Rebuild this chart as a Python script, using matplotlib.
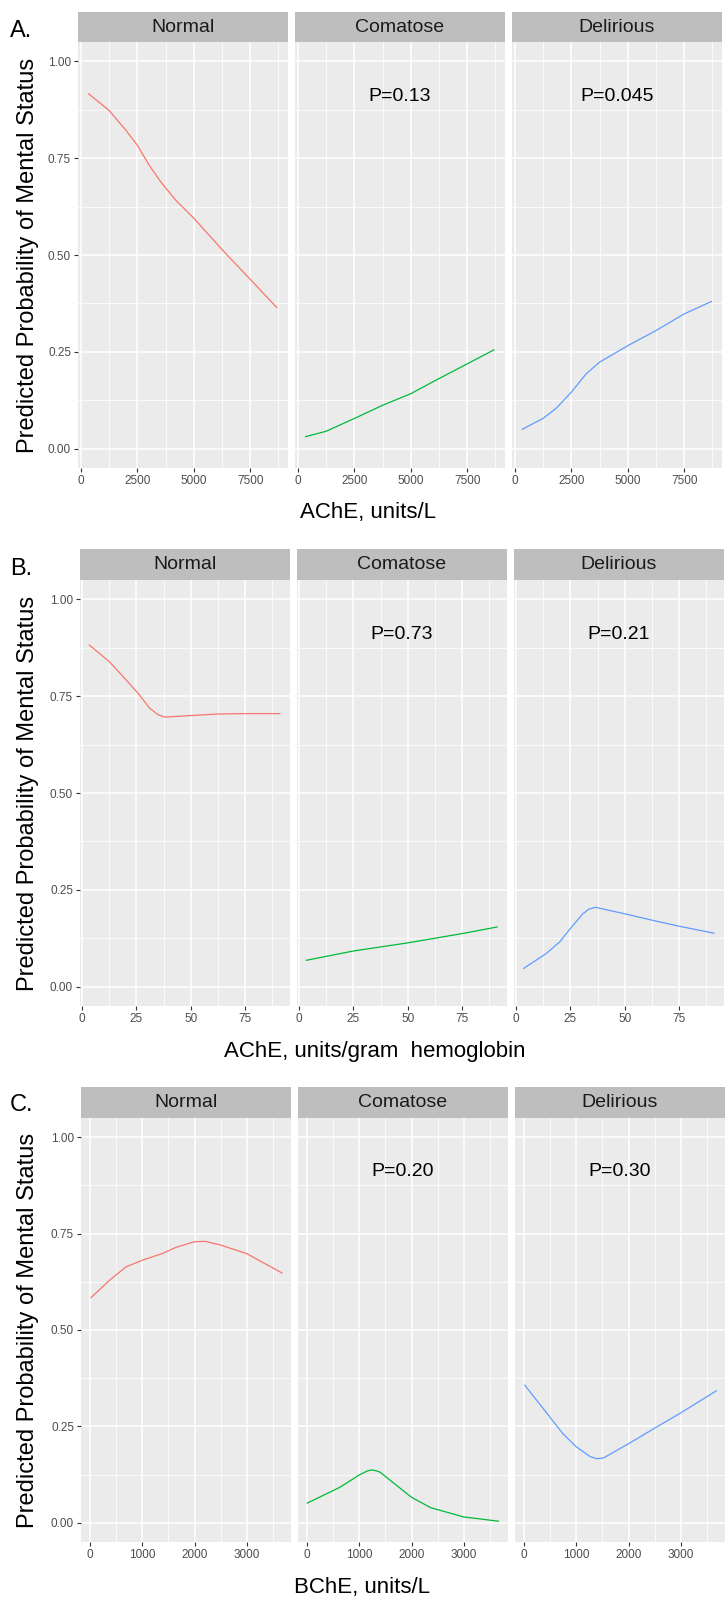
import matplotlib
matplotlib.use('Agg')

import matplotlib.pyplot as plt
from matplotlib.ticker import FixedLocator

plt.rcParams['font.family'] = ['Liberation Sans', 'DejaVu Sans']

# facet names and colours (ggplot hue palette)
facets = ['Normal', 'Comatose', 'Delirious']
facet_colors = ['#F8766D', '#00BA38', '#619CFF']

# A. AChE, units/L
ache_l_normal_x = [340, 1250, 1990, 2500, 3020, 3530, 4190, 5000, 6250, 7500, 8680]
ache_l_normal_y = [0.916, 0.873, 0.822, 0.783, 0.732, 0.689, 0.642, 0.595, 0.514, 0.437, 0.364]
ache_l_comatose_x = [340, 1250, 2500, 3750, 5000, 6250, 7500, 8680]
ache_l_comatose_y = [0.031, 0.045, 0.078, 0.112, 0.142, 0.181, 0.219, 0.255]
ache_l_delirious_x = [320, 1240, 1820, 2500, 3150, 3740, 5000, 6250, 7500, 8700]
ache_l_delirious_y = [0.050, 0.078, 0.104, 0.146, 0.193, 0.223, 0.266, 0.305, 0.348, 0.380]
ache_l_pvals = ['', 'P=0.13', 'P=0.045']

# B. AChE, units/gram hemoglobin
ache_hb_normal_x = [3.4, 12.6, 20.3, 25.7, 31.1, 35.0, 38.0, 50.0, 62.7, 75.0, 90.9]
ache_hb_normal_y = [0.882, 0.839, 0.792, 0.758, 0.719, 0.702, 0.696, 0.700, 0.704, 0.705, 0.705]
ache_hb_comatose_x = [3.4, 25.0, 50.0, 75.0, 91.0]
ache_hb_comatose_y = [0.068, 0.092, 0.113, 0.137, 0.154]
ache_hb_delirious_x = [3.5, 13.8, 20.0, 25.0, 30.7, 33.5, 36.5, 50.0, 63.0, 75.0, 91.0]
ache_hb_delirious_y = [0.047, 0.085, 0.115, 0.150, 0.188, 0.200, 0.205, 0.188, 0.171, 0.156, 0.138]
ache_hb_pvals = ['', 'P=0.73', 'P=0.21']

# C. BChE, units/L
bche_normal_x = [19, 372, 692, 1000, 1397, 1654, 2000, 2199, 2487, 3000, 3673]
bche_normal_y = [0.584, 0.629, 0.664, 0.681, 0.699, 0.715, 0.729, 0.730, 0.721, 0.698, 0.648]
bche_comatose_x = [6, 630, 1000, 1150, 1230, 1320, 1400, 1657, 2000, 2366, 3000, 3661]
bche_comatose_y = [0.051, 0.092, 0.124, 0.134, 0.137, 0.135, 0.131, 0.103, 0.066, 0.039, 0.015, 0.004]
bche_delirious_x = [13, 420, 743, 1000, 1260, 1390, 1520, 2000, 2484, 3000, 3677]
bche_delirious_y = [0.357, 0.287, 0.231, 0.197, 0.172, 0.166, 0.168, 0.205, 0.244, 0.285, 0.342]
bche_pvals = ['', 'P=0.20', 'P=0.30']

y_ticks = [0.0, 0.25, 0.5, 0.75, 1.0]
y_tick_labels = ['0.00', '0.25', '0.50', '0.75', '1.00']

rows = [
    dict(tag='A.', title='AChE, units/L',
         series=[(ache_l_normal_x, ache_l_normal_y),
                 (ache_l_comatose_x, ache_l_comatose_y),
                 (ache_l_delirious_x, ache_l_delirious_y)],
         pvals=ache_l_pvals,
         xticks=[0, 2500, 5000, 7500], xlim=(-133, 9171),
         strip_top=12, panel_top=42, panel_bot=468, left=78,
         title_x=368, title_base=518, tag_base=37),
    dict(tag='B.', title='AChE, units/gram  hemoglobin',
         series=[(ache_hb_normal_x, ache_hb_normal_y),
                 (ache_hb_comatose_x, ache_hb_comatose_y),
                 (ache_hb_delirious_x, ache_hb_delirious_y)],
         pvals=ache_hb_pvals,
         xticks=[0, 25, 50, 75], xlim=(-0.9, 95.6),
         strip_top=549, panel_top=580, panel_bot=1006, left=80,
         title_x=375, title_base=1057, tag_base=575),
    dict(tag='C.', title='BChE, units/L',
         series=[(bche_normal_x, bche_normal_y),
                 (bche_comatose_x, bche_comatose_y),
                 (bche_delirious_x, bche_delirious_y)],
         pvals=bche_pvals,
         xticks=[0, 1000, 2000, 3000], xlim=(-173, 3846),
         strip_top=1087, panel_top=1118, panel_bot=1542, left=81,
         title_x=362, title_base=1593, tag_base=1111),
]

W, H = 726, 1601
fig = plt.figure(figsize=(W / 100, H / 100), dpi=100)

PANEL_W = 210
STEP = 217


def rect(x0, top, w, h):
    # pixel box -> figure fraction
    return [x0 / W, 1 - (top + h) / H, w / W, h / H]


for row in rows:
    ph = row['panel_bot'] - row['panel_top']
    sh = row['panel_top'] - row['strip_top']
    step = row['xticks'][1] - row['xticks'][0]
    minor = [t + step / 2 for t in [row['xticks'][0] - step] + row['xticks']]

    for i, name in enumerate(facets):
        x0 = row['left'] + i * STEP

        # strip
        sax = fig.add_axes(rect(x0, row['strip_top'], PANEL_W, sh))
        sax.set_facecolor('#BEBEBE')
        sax.set_xticks([])
        sax.set_yticks([])
        for s in sax.spines.values():
            s.set_visible(False)
        sax.text(0.5, 0.5, name, ha='center', va='center', fontsize=14,
                 color='#1A1A1A', transform=sax.transAxes)

        # panel
        ax = fig.add_axes(rect(x0, row['panel_top'], PANEL_W, ph))
        ax.set_facecolor('#EBEBEB')
        for s in ax.spines.values():
            s.set_visible(False)
        ax.set_xlim(*row['xlim'])
        ax.set_ylim(-0.05, 1.05)
        ax.set_xticks(row['xticks'])
        ax.set_xticklabels([str(t) for t in row['xticks']])
        ax.xaxis.set_minor_locator(FixedLocator(minor))
        ax.set_yticks(y_ticks)
        ax.yaxis.set_minor_locator(FixedLocator([0.125, 0.375, 0.625, 0.875]))
        if i == 0:
            ax.set_yticklabels(y_tick_labels)
        else:
            ax.set_yticklabels([])
        ax.tick_params(which='major', color='#333333', length=3, width=0.8,
                       labelsize=8.5, labelcolor='#4D4D4D', pad=2)
        ax.tick_params(which='minor', length=0)
        if i > 0:
            ax.tick_params(axis='y', length=0)
        ax.grid(which='major', color='white', linewidth=1.1)
        ax.grid(which='minor', color='white', linewidth=0.55)
        ax.set_axisbelow(True)

        xs, ys = row['series'][i]
        ax.plot(xs, ys, color=facet_colors[i], linewidth=0.9)

        if row['pvals'][i]:
            ax.text(sum(row['xlim']) / 2, 0.91, row['pvals'][i], ha='center',
                    va='center', fontsize=14, color='black')

    # row labels
    fig.text(10 / W, 1 - row['tag_base'] / H, row['tag'], fontsize=17,
             ha='left', va='baseline')
    fig.text(row['title_x'] / W, 1 - row['title_base'] / H, row['title'],
             fontsize=16, ha='center', va='baseline')
    fig.text(28 / W, 1 - (row['panel_top'] + row['panel_bot']) / 2 / H,
             'Predicted Probability of Mental Status', fontsize=17,
             rotation=90, ha='center', va='center')

fig.savefig('out.png', dpi=100, facecolor='white')
